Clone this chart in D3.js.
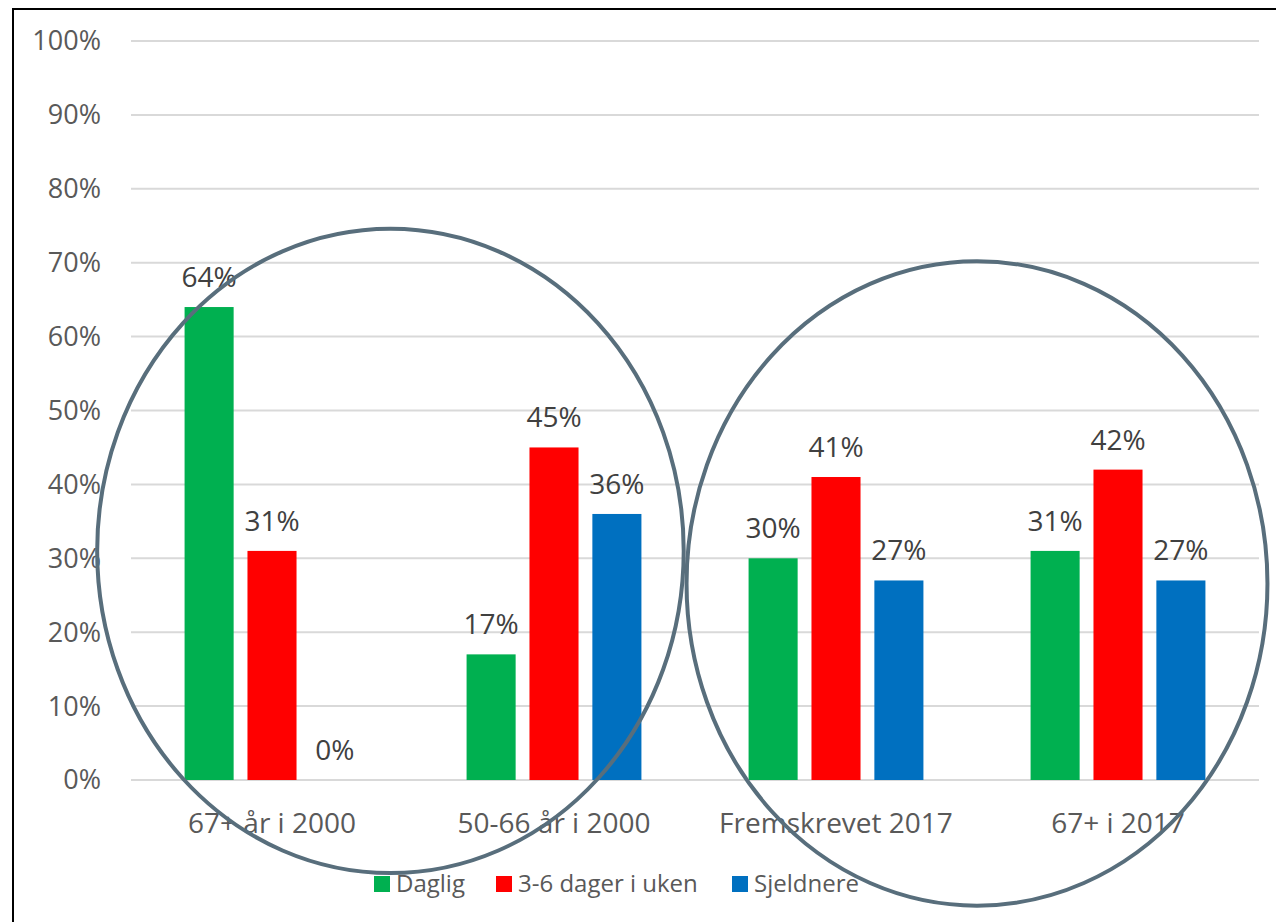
<!DOCTYPE html>
<meta charset="utf-8">
<script src="https://d3js.org/d3.v7.min.js"></script>
<style>
body { margin: 0; background: #fff; }
text { font-family: "Open Sans", "Noto Sans", sans-serif; }
</style>
<div id="chart"></div>
<script>
// data
var categories = ["67+ år i 2000", "50-66 år i 2000", "Fremskrevet 2017", "67+ i 2017"];
var series = ["Daglig", "3-6 dager i uken", "Sjeldnere"];
var daglig = [64, 17, 30, 31];
var dager36 = [31, 45, 41, 42];
var sjeldnere = [0, 36, 27, 27];
var yTicks = [0, 10, 20, 30, 40, 50, 60, 70, 80, 90, 100];
var colors = ["#00B050", "#FF0000", "#0070C0"];

// ellipses drawn on top, in data units (x = category index, y = percent)
var ringCenters = [[0.42, 31], [2.5, 26.6]];
var ringRadii = [[1.04, 43.6], [1.03, 43.6]];

var values = [daglig, dager36, sjeldnere];
var W = 1276, H = 922;
var plotL = 131, plotR = 1259, plotT = 41, plotB = 780;

var svg = d3.select("#chart").append("svg")
  .attr("width", W).attr("height", H);

// outer frame
svg.append("rect")
  .attr("x", 13).attr("y", 9)
  .attr("width", W).attr("height", H)
  .attr("fill", "none").attr("stroke", "#000").attr("stroke-width", 2);

var x0 = d3.scaleBand().domain(categories).range([plotL, plotR])
  .paddingInner(0.38).paddingOuter(0.19);
var x1 = d3.scaleBand().domain(series).range([0, x0.bandwidth()])
  .paddingInner(0.22);
var y = d3.scaleLinear().domain([0, 100]).range([plotB, plotT]);

// gridlines
svg.append("g").selectAll("line").data(yTicks).enter().append("line")
  .attr("x1", plotL).attr("x2", plotR)
  .attr("y1", function(d) { return y(d); })
  .attr("y2", function(d) { return y(d); })
  .attr("stroke", "#D9D9D9").attr("stroke-width", 2);

// y axis labels
svg.append("g").selectAll("text").data(yTicks).enter().append("text")
  .attr("x", 101).attr("y", function(d) { return y(d); })
  .attr("dy", "0.35em").attr("text-anchor", "end")
  .attr("font-size", 27).attr("fill", "#595959")
  .text(function(d) { return d + "%"; });

// bars
var rows = [];
categories.forEach(function(c, i) {
  series.forEach(function(s, j) {
    rows.push({cat: c, ser: s, v: values[j][i], col: colors[j]});
  });
});

svg.append("g").selectAll("rect").data(rows).enter().append("rect")
  .attr("x", function(d) { return x0(d.cat) + x1(d.ser); })
  .attr("y", function(d) { return y(d.v); })
  .attr("width", x1.bandwidth())
  .attr("height", function(d) { return y(0) - y(d.v); })
  .attr("fill", function(d) { return d.col; });

// value labels
svg.append("g").selectAll("text").data(rows).enter().append("text")
  .attr("x", function(d) { return x0(d.cat) + x1(d.ser) + x1.bandwidth() / 2; })
  .attr("y", function(d) { return y(d.v) - 20; })
  .attr("text-anchor", "middle")
  .attr("font-size", 28).attr("fill", "#404040")
  .text(function(d) { return d.v + "%"; });

// category labels
svg.append("g").selectAll("text").data(categories).enter().append("text")
  .attr("x", function(d) { return x0(d) + x0.bandwidth() / 2; })
  .attr("y", 823).attr("dy", "0.35em")
  .attr("text-anchor", "middle")
  .attr("font-size", 28).attr("fill", "#595959")
  .text(function(d) { return d; });

// legend
var legendX = [374, 496, 732];
var lg = svg.append("g").selectAll("g").data(series).enter().append("g")
  .attr("transform", function(d, i) { return "translate(" + legendX[i] + ",884)"; });
lg.append("rect").attr("x", 0).attr("y", -8).attr("width", 16).attr("height", 16)
  .attr("fill", function(d, i) { return colors[i]; });
lg.append("text").attr("x", 22).attr("dy", "0.35em")
  .attr("font-size", 24).attr("fill", "#595959")
  .text(function(d) { return d; });

// rings
var step = x0.step();
var cx0 = x0(categories[0]) + x0.bandwidth() / 2;
svg.append("g").selectAll("ellipse").data(ringCenters).enter().append("ellipse")
  .attr("cx", function(d) { return cx0 + d[0] * step; })
  .attr("cy", function(d) { return y(d[1]); })
  .attr("rx", function(d, i) { return ringRadii[i][0] * step; })
  .attr("ry", function(d, i) { return y(0) - y(ringRadii[i][1]); })
  .attr("fill", "none").attr("stroke", "#586E7C").attr("stroke-width", 4);
</script>
